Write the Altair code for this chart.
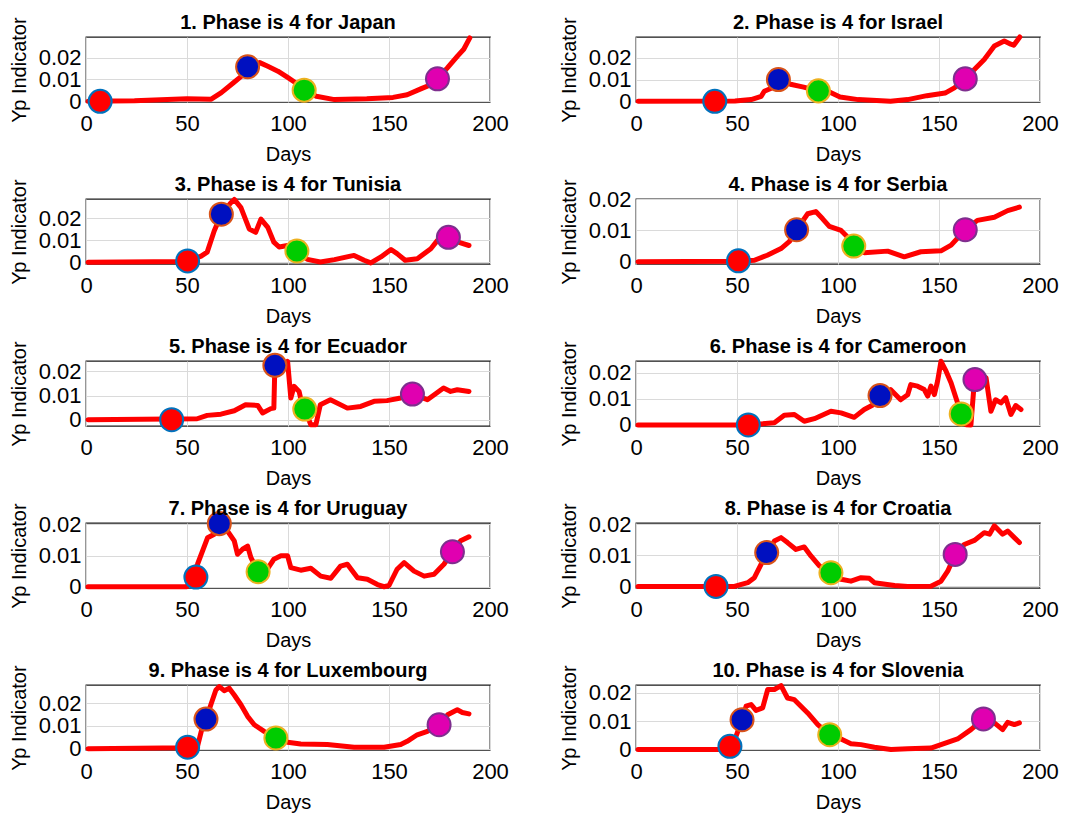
import altair as alt
import pandas as pd

FONT = "Liberation Sans"

COUNTRIES = ["Japan", "Israel", "Tunisia", "Serbia", "Ecuador",
             "Cameroon", "Uruguay", "Croatia", "Luxembourg", "Slovenia"]
X_TICKS = [0, 50, 100, 150, 200]
Y_TICKS = [0, 0.01, 0.02]
PHASES = ["1", "2", "3", "4"]
PHASE_FILL = ["#ff0000", "#0010c0", "#00cc00", "#e000b0"]
PHASE_EDGE = ["#0072bd", "#d95319", "#edb120", "#7e2f8e"]

# ---- Japan
JAPAN_DAY = [1, 24, 50, 62, 67, 73, 77, 80, 86, 90, 95, 100, 105, 108, 114, 123, 139, 152, 159, 166, 171, 174, 179, 184, 187, 190]
JAPAN_YP = [0.0, 0.0003, 0.0012, 0.001, 0.004, 0.0085, 0.0115, 0.0158, 0.0177, 0.016, 0.0138, 0.0108, 0.0077, 0.0051, 0.0023, 0.0008, 0.0012, 0.0018, 0.003, 0.0058, 0.0077, 0.0103, 0.0154, 0.0208, 0.0238, 0.029]
JAPAN_MDAY = [7, 80, 108, 174]
JAPAN_MYP = [0.0, 0.0158, 0.0051, 0.0103]
JAPAN_YLIM = [-0.0003, 0.0294]

# ---- Israel
ISRAEL_DAY = [1, 49, 57, 62, 63.5, 67, 70.5, 77, 83, 90, 95, 101, 110, 126, 134.5, 144, 153, 157.6, 163, 167.5, 172.4, 177.4, 182.3, 185.6, 187, 190]
ISRAEL_YP = [0.0, 0.0002, 0.0008, 0.0023, 0.0046, 0.006, 0.01, 0.0077, 0.0065, 0.0048, 0.0046, 0.002, 0.0008, 0.0, 0.0008, 0.0026, 0.0038, 0.0062, 0.0103, 0.0146, 0.0192, 0.0254, 0.0277, 0.0262, 0.0257, 0.0295]
ISRAEL_MDAY = [39, 70.5, 90.3, 163]
ISRAEL_MYP = [0.0, 0.01, 0.0048, 0.0103]
ISRAEL_YLIM = [-0.0003, 0.0295]

# ---- Tunisia
TUNISIA_DAY = [1, 50, 57, 60, 63.5, 67, 71.7, 73.4, 76.7, 80.8, 84, 86.6, 90, 93, 95.6, 99.8, 104.4, 109.6, 116, 123, 132.7, 137.7, 141, 146, 151, 154, 158, 164, 170.7, 174, 179.4, 184.7, 189.6]
TUNISIA_YP = [0.0, 0.0003, 0.0028, 0.0046, 0.0143, 0.0218, 0.027, 0.0285, 0.0248, 0.0151, 0.0136, 0.0196, 0.0158, 0.0091, 0.0069, 0.0076, 0.0051, 0.0013, 0.0001, 0.0012, 0.0031, 0.0009, -0.0003, 0.0024, 0.0058, 0.0039, 0.0009, 0.0016, 0.0061, 0.0099, 0.0113, 0.009, 0.0076]
TUNISIA_MDAY = [50.3, 67, 104.4, 179.4]
TUNISIA_MYP = [0.0006, 0.0218, 0.0051, 0.0113]
TUNISIA_YLIM = [-0.0008, 0.0287]

# ---- Serbia
SERBIA_DAY = [1, 50.7, 58.6, 65, 71.8, 76, 79.5, 85, 89, 92.4, 95.7, 101.5, 104, 107.8, 113, 124.6, 132.8, 141, 151, 156, 163, 169, 177.4, 184, 189.8]
SERBIA_YP = [0.0, 0.0002, 0.0005, 0.0021, 0.0042, 0.0065, 0.0102, 0.0153, 0.016, 0.0137, 0.0113, 0.01, 0.0084, 0.0049, 0.0029, 0.0034, 0.0016, 0.0032, 0.0035, 0.0053, 0.0102, 0.0132, 0.0142, 0.0163, 0.0174]
SERBIA_MDAY = [50.7, 79.5, 107.8, 163]
SERBIA_MYP = [0.0003, 0.0102, 0.005, 0.0102]
SERBIA_YLIM = [-0.0007, 0.02]

# ---- Ecuador
ECUADOR_DAY = [1, 55, 60, 66.8, 73.4, 79, 85, 87.4, 91.5, 93, 93.5, 98, 99.8, 101.4, 103, 105.5, 107, 108.3, 111.3, 113.8, 116, 121, 129.4, 136, 142.6, 149, 155.8, 161.6, 169, 177, 180.5, 183.8, 189.6]
ECUADOR_YP = [0.0, 0.0004, 0.0018, 0.0023, 0.0037, 0.0062, 0.0059, 0.0028, 0.0046, 0.0048, 0.0225, 0.022, 0.0241, 0.009, 0.0138, 0.0117, 0.0062, 0.0044, -0.0021, -0.0021, 0.0062, 0.0083, 0.0048, 0.0055, 0.0076, 0.0079, 0.009, 0.0106, 0.0083, 0.0131, 0.0117, 0.0124, 0.0117]
ECUADOR_MDAY = [42.4, 93.5, 108.3, 161.6]
ECUADOR_MYP = [0.0, 0.0225, 0.0044, 0.0106]
ECUADOR_YLIM = [-0.0026, 0.0243]

# ---- Cameroon
CAMEROON_DAY = [1, 55.6, 68.5, 73.4, 78.4, 83.3, 88.3, 96.5, 101.5, 108, 113, 117, 120.8, 126, 131, 134.5, 136, 139.4, 142.7, 144.4, 146, 147.7, 149.3, 151, 153.5, 156, 158.4, 161, 163.4, 165.8, 167.5, 170.8, 173.3, 175.7, 178, 180.7, 183, 185.6, 188, 190.6]
CAMEROON_YP = [0.0, 0.0, 0.0008, 0.0037, 0.004, 0.0014, 0.0024, 0.0052, 0.0046, 0.0029, 0.0059, 0.0075, 0.0112, 0.0135, 0.0096, 0.0115, 0.0154, 0.0148, 0.0135, 0.011, 0.0148, 0.0116, 0.0167, 0.0243, 0.0205, 0.016, 0.0103, 0.0042, 0.0001, 0.0, 0.0167, 0.0192, 0.018, 0.0052, 0.0096, 0.0084, 0.0104, 0.004, 0.0074, 0.0059]
CAMEROON_MDAY = [55.6, 120.8, 161, 167.8]
CAMEROON_MYP = [0.0, 0.0112, 0.0042, 0.0173]
CAMEROON_YLIM = [-0.0004, 0.0244]

# ---- Uruguay
URUGUAY_DAY = [1, 50, 55.2, 60.2, 63.5, 66, 70, 73.4, 75, 77.5, 80, 81.6, 85.2, 90, 93, 96.5, 99.8, 101.4, 106.3, 111.3, 116.2, 121.2, 126, 129.4, 134.4, 139.3, 144.3, 147.6, 150, 154, 157.5, 162.4, 167.4, 172.3, 177.2, 181.4, 185.5, 189.6]
URUGUAY_YP = [0.0, 0.0, 0.0072, 0.0157, 0.0168, 0.0202, 0.0179, 0.0147, 0.0104, 0.012, 0.013, 0.0094, 0.0048, 0.0059, 0.0088, 0.0099, 0.0099, 0.0061, 0.0053, 0.0059, 0.0034, 0.0027, 0.0066, 0.0072, 0.0029, 0.0024, 0.0007, 0.0, 0.0004, 0.0056, 0.0077, 0.005, 0.0034, 0.004, 0.0072, 0.0112, 0.0147, 0.016]
URUGUAY_MDAY = [54.4, 66, 85.2, 181.4]
URUGUAY_MYP = [0.0031, 0.0202, 0.0048, 0.0112]
URUGUAY_YLIM = [-0.0004, 0.0204]

# ---- Croatia
CROATIA_DAY = [1, 48.7, 55.3, 58.6, 61.9, 64.7, 68.5, 71.8, 75, 79.2, 83.3, 86.6, 90.8, 96.5, 101.5, 106.4, 111.4, 115.5, 118, 128, 134.5, 146, 151, 154.3, 158, 162.5, 167.5, 172.4, 175, 177.4, 181.5, 184, 187.3, 189.8]
CROATIA_YP = [0.0, 0.0, 0.0012, 0.0028, 0.0071, 0.0109, 0.0146, 0.0157, 0.0141, 0.0119, 0.0127, 0.0098, 0.0066, 0.0044, 0.0023, 0.0017, 0.0028, 0.0026, 0.0012, 0.0003, 0.0, 0.0001, 0.0017, 0.0049, 0.0103, 0.0135, 0.0148, 0.0173, 0.0168, 0.0195, 0.0168, 0.0178, 0.0157, 0.0141]
CROATIA_MDAY = [39.6, 64.7, 96.5, 158]
CROATIA_MYP = [0.0, 0.0109, 0.0044, 0.0103]
CROATIA_YLIM = [-0.0005, 0.0204]

# ---- Luxembourg
LUXEMBOURG_DAY = [1, 50.3, 55.2, 58.5, 59.4, 61.8, 64.3, 66, 68.4, 70.9, 73.4, 76.7, 80, 83.3, 88.2, 94, 99.8, 106.3, 119.5, 132.7, 147.6, 155.8, 159, 164, 169, 174.8, 179, 183.8, 186.3, 189.6]
LUXEMBOURG_YP = [0.0, 0.0004, 0.001, 0.0127, 0.013, 0.0193, 0.0258, 0.0273, 0.0255, 0.0266, 0.0236, 0.0193, 0.0142, 0.0105, 0.0076, 0.0047, 0.0028, 0.002, 0.0018, 0.0006, 0.0006, 0.0018, 0.0032, 0.0061, 0.0076, 0.0105, 0.0149, 0.0171, 0.0159, 0.0153]
LUXEMBOURG_MDAY = [50.3, 59.4, 94, 174.8]
LUXEMBOURG_MYP = [0.0006, 0.013, 0.0047, 0.0105]
LUXEMBOURG_YLIM = [-0.0006, 0.028]

# ---- Slovenia
SLOVENIA_DAY = [1, 45.4, 49.5, 52.5, 54.5, 57, 59.4, 62.7, 65.2, 68.5, 71.8, 75, 78.4, 85, 90, 95.9, 101.5, 106.4, 111.4, 118, 126.2, 134.5, 146, 151, 159.2, 165.8, 172, 177.4, 181.5, 184, 187.3, 189.8]
SLOVENIA_YP = [0.0, 0.0, 0.0046, 0.0105, 0.0153, 0.0159, 0.0138, 0.0147, 0.0212, 0.0212, 0.0226, 0.0182, 0.0176, 0.0129, 0.0088, 0.0052, 0.0037, 0.002, 0.0017, 0.0008, 0.0, 0.0002, 0.0005, 0.0017, 0.0037, 0.007, 0.0108, 0.0094, 0.007, 0.0096, 0.0088, 0.0094]
SLOVENIA_MDAY = [46.5, 52.5, 95.9, 172]
SLOVENIA_MYP = [0.0011, 0.0105, 0.0052, 0.0108]
SLOVENIA_YLIM = [-0.0002, 0.0228]

SERIES = [
    (JAPAN_DAY, JAPAN_YP, JAPAN_MDAY, JAPAN_MYP, JAPAN_YLIM),
    (ISRAEL_DAY, ISRAEL_YP, ISRAEL_MDAY, ISRAEL_MYP, ISRAEL_YLIM),
    (TUNISIA_DAY, TUNISIA_YP, TUNISIA_MDAY, TUNISIA_MYP, TUNISIA_YLIM),
    (SERBIA_DAY, SERBIA_YP, SERBIA_MDAY, SERBIA_MYP, SERBIA_YLIM),
    (ECUADOR_DAY, ECUADOR_YP, ECUADOR_MDAY, ECUADOR_MYP, ECUADOR_YLIM),
    (CAMEROON_DAY, CAMEROON_YP, CAMEROON_MDAY, CAMEROON_MYP, CAMEROON_YLIM),
    (URUGUAY_DAY, URUGUAY_YP, URUGUAY_MDAY, URUGUAY_MYP, URUGUAY_YLIM),
    (CROATIA_DAY, CROATIA_YP, CROATIA_MDAY, CROATIA_MYP, CROATIA_YLIM),
    (LUXEMBOURG_DAY, LUXEMBOURG_YP, LUXEMBOURG_MDAY, LUXEMBOURG_MYP, LUXEMBOURG_YLIM),
    (SLOVENIA_DAY, SLOVENIA_YP, SLOVENIA_MDAY, SLOVENIA_MYP, SLOVENIA_YLIM),
]

W, H = 404, 65


def panel(idx, name, days, yp, mdays, myp, ylim):
    df = pd.DataFrame({"day": days, "yp": yp})
    mk = pd.DataFrame({"day": mdays, "yp": myp, "phase": PHASES})
    xs = alt.Scale(domain=[0, 200], nice=False, zero=False)
    ys = alt.Scale(domain=ylim, nice=False, zero=False)
    x = alt.X("day:Q", scale=xs,
              axis=alt.Axis(values=X_TICKS, title="Days", format="d"))
    y = alt.Y("yp:Q", scale=ys,
              axis=alt.Axis(values=Y_TICKS, title="Yp Indicator", format=".2~f"))
    line = alt.Chart(df).mark_line(color="#ff0000", strokeWidth=5,
                                   strokeJoin="round", strokeCap="round").encode(x=x, y=y)
    pts = alt.Chart(mk).mark_circle(size=530, strokeWidth=2, opacity=1).encode(
        x=x, y=y,
        fill=alt.Fill("phase:N", scale=alt.Scale(domain=PHASES, range=PHASE_FILL), legend=None),
        stroke=alt.Stroke("phase:N", scale=alt.Scale(domain=PHASES, range=PHASE_EDGE), legend=None),
    )
    title = alt.Chart(mk).transform_filter("datum.phase == '1'").mark_text(
        font=FONT, fontSize=20, fontWeight="bold", color="#000000",
        align="center", baseline="alphabetic",
    ).encode(
        x=alt.value(W / 2), y=alt.value(-8),
        text=alt.value(f"{idx}. Phase is 4 for {name}"),
    )
    return alt.layer(line, pts, title).properties(width=W, height=H)


panels = [panel(i + 1, COUNTRIES[i], *SERIES[i]) for i in range(10)]

chart = alt.concat(*panels, columns=2, spacing={"row": 97, "column": 146},
                   bounds="flush").properties(
    padding={"left": 8, "top": 12, "right": 5, "bottom": 5}
).configure(
    background="white",
).configure_view(
    stroke="#1a1a1a", strokeWidth=1.3,
).configure_axis(
    labelFont=FONT, labelFontSize=22, labelColor="#000000",
    titleFont=FONT, titleFontSize=20, titleFontWeight="normal", titleColor="#000000",
    domain=False, ticks=False, grid=True, gridColor="#dadada", gridWidth=1,
    labelOverlap=False, labelFlush=False,
).configure_axisX(
    labelPadding=11, titlePadding=10,
).configure_axisY(
    labelPadding=5, titlePadding=9,
)

chart.save("out.html", embed_options={"renderer": "svg", "actions": False})
